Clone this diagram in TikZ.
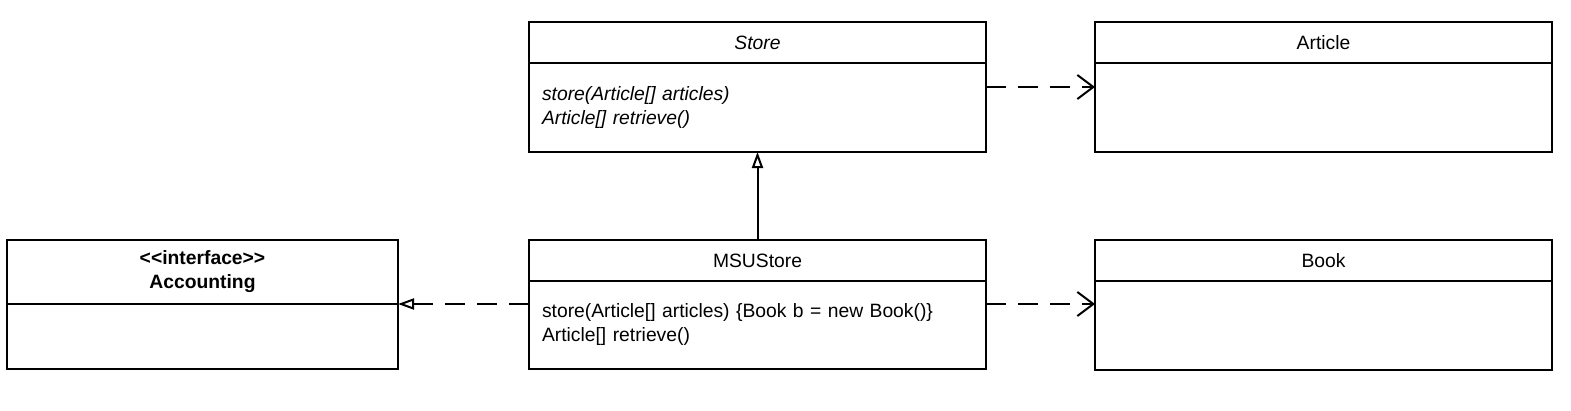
\documentclass[tikz,border=0pt]{standalone}
\usepackage{fontspec}
\setmainfont{Liberation Sans}
\usetikzlibrary{arrows.meta, positioning}

\tikzset{
  head/.style={draw, line width=2pt, outer sep=0pt, minimum height=41pt, inner sep=0pt, align=center},
  body/.style={draw, line width=2pt, outer sep=0pt, inner xsep=13pt, inner ysep=0pt, align=left},
  dep/.style={line width=2pt, dash pattern=on 20pt off 12pt, -{Straight Barb[length=16pt, width=24pt]}},
  real/.style={line width=2pt, dash pattern=on 20pt off 12pt, -{Triangle[open, length=16pt, width=11pt]}},
  gen/.style={line width=2pt, -{Triangle[open, length=16pt, width=11pt]}}
}

\begin{document}
\begin{tikzpicture}[x=1pt, y=-1pt, font=\fontsize{19.3}{24}\selectfont]
\useasboundingbox (0,0) rectangle (1571,410);

\node (store) [head, minimum width=457pt, anchor=north west] at (529,22) {\itshape Store};
\node (storebody) [body, below=0pt of store, minimum height=89pt, text width=431pt]
  {\itshape store(Article[] articles)\\ \itshape Article[] retrieve()};
\node (article) [head, minimum width=457pt, anchor=north west] at (1095,22) {Article};
\node (articlebody) [body, below=0pt of article, minimum height=89pt, minimum width=457pt] {};

\node (msu) [head, minimum width=457pt, anchor=north west] at (529,240) {MSUStore};
\node (msubody) [body, below=0pt of msu, minimum height=88pt, text width=431pt]
  {store(Article[] articles) \{Book b = new Book()\}\\ Article[] retrieve()};
\node (book) [head, minimum width=457pt, anchor=north west] at (1095,240) {Book};
\node (bookbody) [body, below=0pt of book, minimum height=89pt, minimum width=457pt] {};

\node (acc) [head, minimum width=391pt, minimum height=64pt, anchor=north west] at (7,240)
  {\bfseries <{}<interface>{}>\\ \bfseries Accounting};
\node (accbody) [body, below=0pt of acc, minimum height=65pt, minimum width=391pt] {};

\draw [dep] ([yshift=-24pt]storebody.north east) -- ([yshift=-24pt]articlebody.north west);
\draw [dep] ([yshift=-23pt]msubody.north east) -- ([yshift=-23pt]bookbody.north west);
\draw [real] ([yshift=-23pt]msubody.north west) -- (accbody.north east);
\draw [gen] (msu.north) -- (storebody.south);
\end{tikzpicture}
\end{document}
